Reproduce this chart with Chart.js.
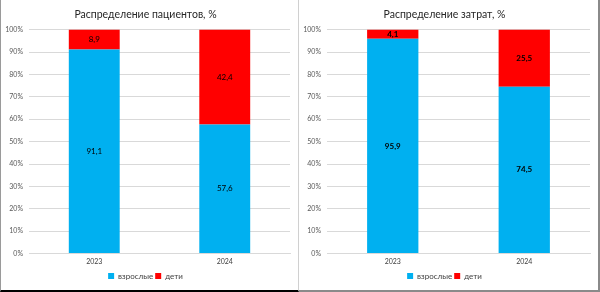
<!DOCTYPE html>
<html>
<head>
<meta charset="utf-8">
<script src="https://cdn.jsdelivr.net/npm/chart.js@4.4.1/dist/chart.umd.min.js"></script>
<style>
  html, body { margin: 0; padding: 0; background: #fff; }
  body { width: 600px; height: 292px; position: relative; overflow: hidden; }
  .panel { position: absolute; top: 0; box-sizing: border-box; }
  #p1 { left: 0; width: 299px; height: 292px; border-left: 1px solid #9a9a9a; border-right: 1px solid #d0d0d0; border-bottom: 2px solid #000; }
  #p2 { left: 299px; width: 301px; height: 292px; border-right: 2px solid #8a8a8a; border-bottom: 2px solid #8a8a8a; }
  canvas { position: absolute; top: 0; left: 0; }
</style>
</head>
<body>
<div class="panel" id="p1"><canvas id="c1" width="297" height="290"></canvas></div>
<div class="panel" id="p2"><canvas id="c2" width="299" height="290"></canvas></div>
<script>
  const years = ["2023", "2024"];
  const seriesNames = ["взрослые", "дети"];
  const patientsAdults = [91.1, 57.6];
  const patientsChildren = [8.9, 42.4];
  const costsAdults = [95.9, 74.5];
  const costsChildren = [4.1, 25.5];

  const BLUE = "#00b0f0";
  const RED = "#ff0000";
  const FONT = "Lato, 'Liberation Sans', sans-serif";

  const $ = (id) => document.getElementById(id);
  const fmt = (v) => v.toFixed(1).replace(".", ",");

  // value in the middle of each stacked segment
  const segLabels = {
    id: "segLabels",
    afterDatasetsDraw(chart, args, opts) {
      const ctx = chart.ctx;
      ctx.save();
      ctx.font = (opts.bold ? "bold " : "") + "8px " + FONT;
      ctx.fillStyle = "#000";
      ctx.textAlign = "center";
      ctx.textBaseline = "middle";
      chart.data.datasets.forEach((ds, i) => {
        chart.getDatasetMeta(i).data.forEach((bar, j) => {
          const p = bar.getProps(["x", "y", "base"], true);
          ctx.fillText(fmt(ds.data[j]), p.x, (p.y + p.base) / 2);
        });
      });
      ctx.restore();
    }
  };

  function makeChart(canvasId, title, adults, children, axisW, bold) {
    return new Chart($(canvasId), {
      type: "bar",
      data: {
        labels: years,
        datasets: [
          { label: seriesNames[0], data: adults, backgroundColor: BLUE, borderWidth: 0 },
          { label: seriesNames[1], data: children, backgroundColor: RED, borderWidth: 0 }
        ]
      },
      options: {
        responsive: false,
        animation: false,
        devicePixelRatio: 1,
        layout: { padding: { left: 0, right: 8, top: 0, bottom: 0 } },
        datasets: { bar: { categoryPercentage: 1, barPercentage: 0.39 } },
        plugins: {
          title: {
            display: true,
            text: title,
            color: "#262626",
            font: { family: FONT, size: 10.5, weight: "normal" },
            padding: { top: 8, bottom: 9 }
          },
          legend: {
            position: "bottom",
            labels: {
              color: "#404040",
              font: { family: FONT, size: 8 },
              boxWidth: 6,
              boxHeight: 6,
              padding: 2
            }
          },
          tooltip: { enabled: false },
          segLabels: { bold }
        },
        scales: {
          x: {
            stacked: true,
            grid: { display: false, drawTicks: false },
            border: { color: "#d9d9d9" },
            ticks: { color: "#404040", font: { family: FONT, size: 7 }, padding: 4 }
          },
          y: {
            stacked: true,
            min: 0,
            max: 100,
            border: { display: false },
            grid: { color: "#d9d9d9", drawTicks: false },
            afterFit(scale) { scale.width = axisW; },
            ticks: {
              stepSize: 10,
              color: "#595959",
              font: { family: FONT, size: 7 },
              padding: 6,
              callback: (v) => v + "%"
            }
          }
        }
      },
      plugins: [segLabels]
    });
  }

  makeChart("c1", "Распределение пациентов, %", patientsAdults, patientsChildren, 28, false);
  makeChart("c2", "Распределение затрат, %", costsAdults, costsChildren, 28, true);
</script>
</body>
</html>
